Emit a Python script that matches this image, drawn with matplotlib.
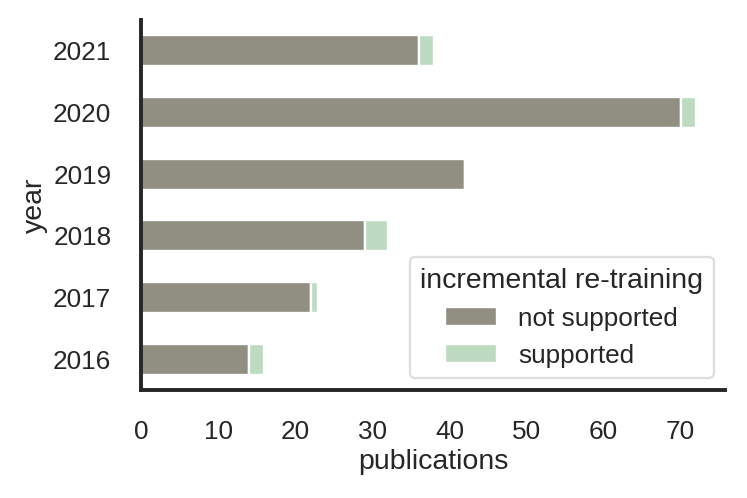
import matplotlib
matplotlib.use('Agg')
import matplotlib.pyplot as plt
import seaborn as sns
import numpy as np

years = ['2016', '2017', '2018', '2019', '2020', '2021']
not_supported = [14, 22, 29, 42, 70, 36]
supported = [2, 1, 3, 0, 2, 2]

sns.set_style('white')
plt.rcParams['font.family'] = ['Liberation Sans', 'DejaVu Sans']

tick_fs = 18.8
label_fs = 20.5

fig = plt.figure(figsize=(7.47, 4.98), dpi=100)
ax = fig.add_axes([0.189, 0.217, 0.782, 0.743])

y = np.arange(len(years))
ax.barh(y, not_supported, height=0.5, color='#918f82', edgecolor='white',
        linewidth=1.7, label='not supported')
ax.barh(y, supported, height=0.5, left=not_supported, color='#bedac1',
        edgecolor='white', linewidth=1.7, label='supported')

ax.set_yticks(y)
ax.set_yticklabels(years)
ax.set_ylim(-0.5, 5.5)
ax.set_xlim(0, 75.8)
ax.set_xticks(range(0, 80, 10))
ax.tick_params(labelsize=tick_fs, length=0, pad=21.5, colors='#262626')
ax.set_xlabel('publications', fontsize=label_fs, labelpad=4, color='#262626')
ax.set_ylabel('year', fontsize=label_fs, labelpad=4, color='#262626')

for s in ['top', 'right']:
    ax.spines[s].set_visible(False)
for s in ['left', 'bottom']:
    ax.spines[s].set_color('#262626')
    ax.spines[s].set_linewidth(2.8)

leg = ax.legend(title='incremental re-training', loc='lower right',
                fontsize=tick_fs, title_fontsize=label_fs, frameon=True,
                borderaxespad=0.45)
leg.get_frame().set_edgecolor('#d6d6d6')
leg.get_frame().set_linewidth(1.7)

fig.savefig('out.png', dpi=100)
